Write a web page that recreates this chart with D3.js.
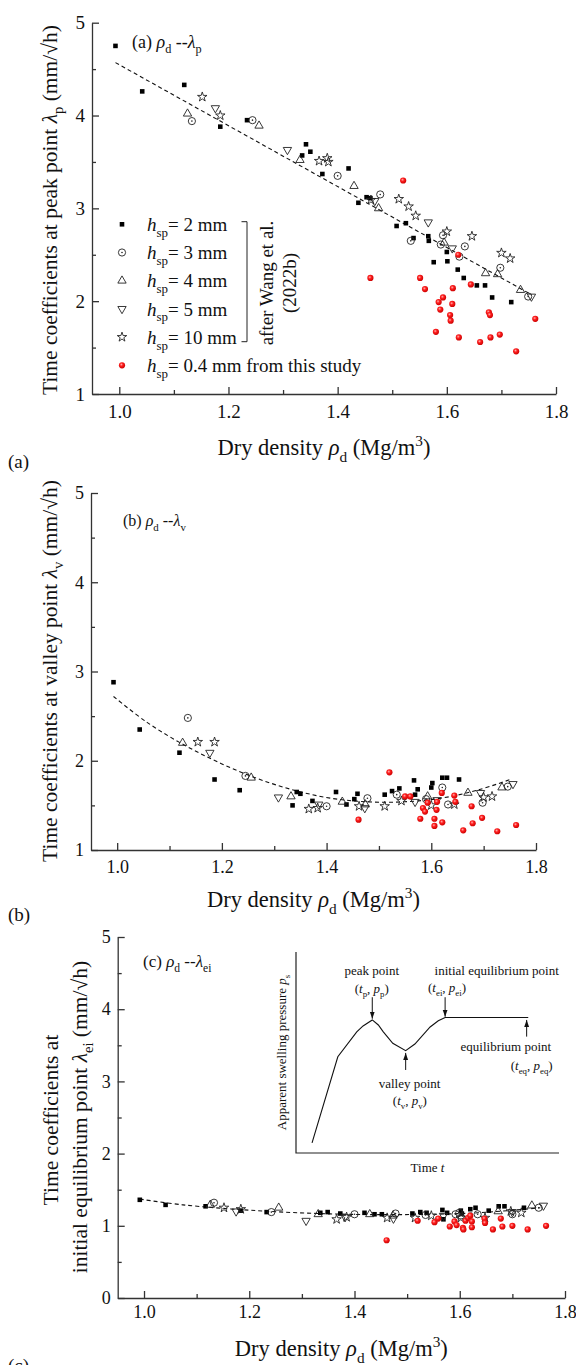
<!DOCTYPE html>
<html>
<head>
<meta charset="utf-8">
<script src="https://cdn.jsdelivr.net/npm/d3@7"></script>
<style>
  body { margin: 0; background: #fff; }
  svg { display: block; font-family: "Liberation Serif", "Times New Roman", serif; }
</style>
</head>
<body>
<svg id="chart" width="576" height="1365"></svg>
<script>
// ---- data: [dry density, time coefficient] ----
const aH2 = [[0.993,4.75],[1.042,4.26],[1.119,4.33],[1.185,3.88],[1.234,3.95],[1.335,3.57],[1.342,3.69],[1.350,3.61],[1.372,3.37],[1.420,3.43],[1.438,3.06],[1.453,3.12],[1.460,3.11],[1.508,2.81],[1.525,2.84],[1.539,2.68],[1.566,2.70],[1.567,2.65],[1.576,2.42],[1.600,2.53],[1.601,2.43],[1.620,2.34],[1.631,2.25],[1.655,2.17],[1.670,2.17],[1.683,2.04],[1.718,1.99]];
const aH3 = [[1.133,3.94],[1.244,3.95],[1.400,3.35],[1.478,3.15],[1.534,2.65],[1.589,2.61],[1.593,2.71],[1.623,2.48],[1.633,2.59],[1.698,2.36],[1.749,2.05]];
const aH4 = [[1.125,4.02],[1.256,3.89],[1.331,3.52],[1.430,3.24],[1.475,3.00],[1.595,2.63],[1.671,2.30],[1.693,2.29],[1.735,2.12]];
const aH5 = [[1.176,4.08],[1.308,3.63],[1.468,3.08],[1.566,2.85],[1.610,2.57],[1.755,2.05]];
const aH10 = [[1.152,4.20],[1.185,4.00],[1.366,3.51],[1.381,3.54],[1.383,3.50],[1.461,3.09],[1.512,3.10],[1.530,3.02],[1.543,2.92],[1.600,2.75],[1.646,2.70],[1.700,2.52],[1.716,2.46]];
const aRed = [[1.520,3.30],[1.460,2.25],[1.551,2.25],[1.560,2.13],[1.585,1.99],[1.593,2.04],[1.588,1.91],[1.610,1.97],[1.606,1.85],[1.607,1.79],[1.611,2.14],[1.580,1.67],[1.621,2.50],[1.622,1.61],[1.644,2.18],[1.661,1.56],[1.677,1.88],[1.679,1.85],[1.680,1.61],[1.697,1.64],[1.727,1.46],[1.762,1.81]];
const aTrend = [[0.993,4.57],[1.755,2.07]];

const bH2 = [[0.993,2.88],[1.043,2.35],[1.119,2.09],[1.186,1.79],[1.234,1.67],[1.335,1.50],[1.343,1.65],[1.350,1.63],[1.373,1.55],[1.418,1.65],[1.438,1.51],[1.453,1.57],[1.459,1.63],[1.511,1.62],[1.525,1.66],[1.539,1.69],[1.567,1.78],[1.569,1.62],[1.574,1.68],[1.600,1.70],[1.602,1.75],[1.621,1.81],[1.630,1.81],[1.653,1.79]];
const bH3 = [[1.135,2.48],[1.245,1.83],[1.400,1.49],[1.478,1.58],[1.534,1.62],[1.590,1.57],[1.621,1.70],[1.632,1.51],[1.698,1.53],[1.746,1.71]];
const bH4 = [[1.125,2.20],[1.256,1.81],[1.332,1.60],[1.430,1.54],[1.474,1.51],[1.593,1.60],[1.670,1.64],[1.735,1.70]];
const bH5 = [[1.177,2.09],[1.308,1.59],[1.385,1.51],[1.473,1.47],[1.569,1.54],[1.611,1.56],[1.694,1.64],[1.756,1.74]];
const bH10 = [[1.154,2.21],[1.186,2.21],[1.366,1.46],[1.383,1.47],[1.462,1.49],[1.511,1.49],[1.543,1.55],[1.600,1.50],[1.644,1.51],[1.700,1.59],[1.716,1.60]];
const bRed = [[1.461,1.34],[1.520,1.87],[1.550,1.60],[1.560,1.60],[1.579,1.35],[1.584,1.47],[1.588,1.43],[1.593,1.53],[1.606,1.35],[1.606,1.27],[1.610,1.45],[1.611,1.54],[1.620,1.64],[1.621,1.31],[1.644,1.61],[1.646,1.54],[1.661,1.22],[1.677,1.49],[1.679,1.30],[1.697,1.36],[1.726,1.21],[1.762,1.28]];
const bTrend = [[0.993,2.72],[1.057,2.43],[1.127,2.18],[1.198,1.97],[1.268,1.80],[1.338,1.67],[1.408,1.58],[1.478,1.54],[1.548,1.54],[1.618,1.58],[1.688,1.67],[1.751,1.79]];

const cH2 = [[0.992,1.36],[1.041,1.29],[1.117,1.27],[1.184,1.21],[1.233,1.19],[1.335,1.18],[1.349,1.19],[1.373,1.17],[1.419,1.18],[1.438,1.16],[1.452,1.16],[1.510,1.17],[1.525,1.19],[1.537,1.18],[1.567,1.22],[1.569,1.09],[1.576,1.18],[1.602,1.21],[1.604,1.17],[1.620,1.23],[1.630,1.25],[1.655,1.21],[1.674,1.27],[1.685,1.27],[1.722,1.25]];
const cH3 = [[1.133,1.32],[1.242,1.19],[1.400,1.16],[1.478,1.17],[1.535,1.15],[1.592,1.16],[1.599,1.18],[1.634,1.16],[1.700,1.16],[1.750,1.25]];
const cH4 = [[1.126,1.29],[1.256,1.25],[1.331,1.16],[1.429,1.16],[1.473,1.14],[1.604,1.13],[1.673,1.20],[1.737,1.28]];
const cH5 = [[1.175,1.20],[1.308,1.07],[1.382,1.12],[1.474,1.10],[1.569,1.14],[1.700,1.19],[1.759,1.28]];
const cH10 = [[1.152,1.25],[1.184,1.23],[1.366,1.09],[1.385,1.12],[1.462,1.11],[1.515,1.11],[1.546,1.14],[1.602,1.11],[1.648,1.11],[1.697,1.20],[1.717,1.18]];
const cRed = [[1.461,0.80],[1.520,1.07],[1.552,1.05],[1.559,1.10],[1.581,0.99],[1.590,1.06],[1.594,1.01],[1.606,0.97],[1.607,0.95],[1.611,1.07],[1.616,1.11],[1.620,1.14],[1.623,1.06],[1.623,0.98],[1.647,1.10],[1.648,1.04],[1.663,0.95],[1.678,1.10],[1.681,0.99],[1.700,1.00],[1.729,0.95],[1.764,1.00]];
const cTrend = [[0.992,1.37],[1.074,1.29],[1.214,1.21],[1.354,1.165],[1.494,1.155],[1.634,1.18],[1.753,1.25]];

const xTicks = [1.0, 1.2, 1.4, 1.6, 1.8];
const xMinor = [1.1, 1.3, 1.5, 1.7];
const legendLabels = ["2 mm", "3 mm", "4 mm", "5 mm", "10 mm", "0.4 mm from this study"];
const seriesTypes = ["square", "dotcircle", "tri", "dtri", "star", "red"];

// schematic inset (arbitrary units 0-100: time, pressure)
const insetCurve = [[6.1,5.0],[15.9,47.9],[23.1,60.3],[25.5,63.2],[29.0,66.2],[31.3,63.7],[33.2,60.3],[36.8,54.6],[41.7,50.9],[45.2,54.2],[51.0,62.7],[54.1,65.8],[56.7,67.4],[88.3,67.4]];
const insetArrows = [[29.0,77.5,66.8],[56.7,77.5,67.8],[87.7,57.9,66.2],[41.7,41.3,49.8]];

const svg = d3.select("#chart");
const FONT = 21.5;   // y-axis titles
const XFONT = 22.5;  // x-axis titles

// rich text with italic / subscript / superscript pieces
function rich(text, parts, size) {
  let shift = 0;
  parts.forEach(p => {
    const s = p.sub ? size * 0.3 : p.sup ? -size * 0.42 : 0;
    const ts = text.append("tspan").text(p.t);
    if (s - shift !== 0) ts.attr("dy", s - shift);
    shift = s;
    if (p.i) ts.attr("font-style", "italic");
    if (p.sub || p.sup) ts.attr("font-size", size * 0.68);
  });
}

const defs = svg.append("defs");
const grad = defs.append("radialGradient").attr("id", "redball")
  .attr("cx", "40%").attr("cy", "38%").attr("r", "62%");
grad.append("stop").attr("offset", "0%").attr("stop-color", "#ffb0b0");
grad.append("stop").attr("offset", "40%").attr("stop-color", "#ff2020");
grad.append("stop").attr("offset", "100%").attr("stop-color", "#cc0000");
defs.append("marker").attr("id", "arrow").attr("viewBox", "0 0 10 10")
  .attr("refX", 10).attr("refY", 5).attr("markerWidth", 7).attr("markerHeight", 7)
  .attr("markerUnits", "userSpaceOnUse").attr("orient", "auto")
  .append("path").attr("d", "M0,1.5L10,5L0,8.5Z").attr("fill", "#111");

function drawMarker(g, type, cx, cy) {
  if (type === "square") {
    g.append("path").attr("d", d3.symbol(d3.symbolSquare, 21)())
      .attr("transform", `translate(${cx},${cy})`).attr("fill", "#000");
  } else if (type === "dotcircle") {
    g.append("circle").attr("cx", cx).attr("cy", cy).attr("r", 3.6)
      .attr("fill", "none").attr("stroke", "#222").attr("stroke-width", 0.9);
    g.append("circle").attr("cx", cx).attr("cy", cy).attr("r", 0.8).attr("fill", "#222");
  } else if (type === "tri" || type === "dtri") {
    g.append("path").attr("d", d3.symbol(d3.symbolTriangle, 30)())
      .attr("transform", `translate(${cx},${cy})` + (type === "dtri" ? " rotate(180)" : ""))
      .attr("fill", "none").attr("stroke", "#222").attr("stroke-width", 0.9);
  } else if (type === "star") {
    g.append("path").attr("d", d3.symbol(d3.symbolStar, 28)())
      .attr("transform", `translate(${cx},${cy})`)
      .attr("fill", "none").attr("stroke", "#222").attr("stroke-width", 0.9);
  } else {
    g.append("circle").attr("cx", cx).attr("cy", cy).attr("r", 3.1)
      .attr("fill", "url(#redball)");
  }
}

function drawPanel(p) {
  const g = svg.append("g");
  const x = d3.scaleLinear().domain([0.95, 1.8]).range(p.xr);
  const y = d3.scaleLinear().domain(p.yd).range(p.yr);
  const yMinor = d3.range(p.yd[0] + 0.5, p.yd[1], 1);

  // keep the serif font of the page on the axes
  const style = a => {
    a.attr("font-family", null);
    a.selectAll("path, line").attr("stroke", "#333").attr("stroke-width", 1.3);
    a.selectAll("text").attr("fill", "#111");
  };
  // x axis, ticks inward
  g.append("g").attr("transform", `translate(0,${p.yr[0]})`)
    .call(d3.axisBottom(x).tickValues(xMinor).tickSize(-4).tickSizeOuter(0).tickFormat(""))
    .call(style).select(".domain").remove();
  g.append("g").attr("transform", `translate(0,${p.yr[0]})`)
    .call(d3.axisBottom(x).tickValues(xTicks).tickSize(-7).tickSizeOuter(0)
      .tickPadding(p.xPad).tickFormat(d3.format(".1f")))
    .call(style).attr("font-size", p.tick);
  // y axis, ticks inward
  g.append("g").attr("transform", `translate(${p.xr[0]},0)`)
    .call(d3.axisLeft(y).tickValues(yMinor).tickSize(-4).tickSizeOuter(0).tickFormat(""))
    .call(style).select(".domain").remove();
  g.append("g").attr("transform", `translate(${p.xr[0]},0)`)
    .call(d3.axisLeft(y).tickValues(d3.range(p.yd[0], p.yd[1] + 1)).tickSize(-7).tickSizeOuter(0)
      .tickPadding(7).tickFormat(d3.format("d")))
    .call(style).attr("font-size", p.tick);

  // fitted trend
  g.append("path").datum(p.trend)
    .attr("d", d3.line().x(d => x(d[0])).y(d => y(d[1])).curve(d3.curveCatmullRom))
    .attr("fill", "none").attr("stroke", "#111").attr("stroke-width", 1.1)
    .attr("stroke-dasharray", "4,3");

  // points
  p.series.forEach((s, i) => {
    const sg = g.append("g");
    s.forEach(d => drawMarker(sg, seriesTypes[i], x(d[0]), y(d[1])));
  });

  // panel title
  const t = g.append("text").attr("x", p.title[0]).attr("y", p.title[1])
    .attr("font-size", p.titleSize).attr("fill", "#111");
  rich(t, [{t: `(${p.id}) `}, {t: "ρ", i: 1}, {t: "d", sub: 1}, {t: " --"}, {t: "λ", i: 1}, {t: p.lam, sub: 1}], p.titleSize);

  // x label
  const xl = g.append("text").attr("x", (p.xr[0] + p.xr[1]) / 2).attr("y", p.xLab)
    .attr("text-anchor", "middle").attr("font-size", XFONT).attr("fill", "#111");
  rich(xl, [{t: "Dry density "}, {t: "ρ", i: 1}, {t: "d", sub: 1}, {t: " (Mg/m"}, {t: "3", sup: 1}, {t: ")"}], XFONT);

  // y label (one or two lines)
  p.yLab.forEach(l => {
    const yl = g.append("text")
      .attr("transform", `translate(${l.x},${l.y}) rotate(-90)`)
      .attr("text-anchor", "middle").attr("font-size", FONT).attr("fill", "#111");
    rich(yl, l.parts, FONT);
  });

  // sub-figure letter
  g.append("text").attr("x", 8).attr("y", p.letter).attr("font-size", 19).attr("fill", "#111")
    .text(`(${p.id})`);
  return {x, y, g};
}

const lamParts = (pre, sub) => [{t: pre}, {t: "λ", i: 1}, {t: sub, sub: 1}, {t: " (mm/√h)"}];

drawPanel({
  id: "a", lam: "p", xr: [92, 556], yr: [394, 22.7], yd: [1, 5], tick: 19, xPad: 11,
  trend: aTrend, series: [aH2, aH3, aH4, aH5, aH10, aRed],
  title: [132, 48], titleSize: 18, xLab: 455, letter: 468,
  yLab: [{x: 57, y: 210, parts: lamParts("Time coefficients at peak point ", "p")}]
});
drawPanel({
  id: "b", lam: "v", xr: [91, 536], yr: [850, 493], yd: [1, 5], tick: 18, xPad: 10,
  trend: bTrend, series: [bH2, bH3, bH4, bH5, bH10, bRed],
  title: [123, 526], titleSize: 16, xLab: 907, letter: 921,
  yLab: [{x: 57, y: 671, parts: lamParts("Time coefficients at valley point ", "v")}]
});
drawPanel({
  id: "c", lam: "ei", xr: [117.7, 565], yr: [1298, 937], yd: [0, 5], tick: 18, xPad: 7,
  trend: cTrend, series: [cH2, cH3, cH4, cH5, cH10, cRed],
  title: [143, 967], titleSize: 17, xLab: 1356, letter: 1372,
  yLab: [{x: 58, y: 1120, parts: [{t: "Time coefficients at"}]},
         {x: 87, y: 1117, parts: lamParts("initial equilibrium point ", "ei")}]
});

// ---- legend in panel (a) ----
const lg = svg.append("g");
legendLabels.forEach((lab, i) => {
  const cy = 224.3 + i * 28.2;
  drawMarker(lg, seriesTypes[i], 122, cy);
  const t = lg.append("text").attr("x", 147).attr("y", cy + 6.7).attr("font-size", 19).attr("fill", "#111");
  rich(t, [{t: "h", i: 1}, {t: "sp", sub: 1}, {t: "= " + lab}], 19);
});
lg.append("path").attr("d", "M241.5,221.7H247V341.7H241.5")
  .attr("fill", "none").attr("stroke", "#222").attr("stroke-width", 1);
[["after Wang et al.", 266], ["(2022b)", 289]].forEach(([s, xx]) => {
  lg.append("text").attr("transform", `translate(${xx},283) rotate(-90)`)
    .attr("text-anchor", "middle").attr("dy", "0.35em").attr("font-size", 19).attr("fill", "#111").text(s);
});

// ---- schematic inset in panel (c) ----
const ix = d3.scaleLinear().domain([0, 100]).range([296, 559]);
const iy = d3.scaleLinear().domain([0, 100]).range([1153, 952]);
const ig = svg.append("g");
const iline = d3.line().x(d => ix(d[0])).y(d => iy(d[1]));
ig.append("path").datum([[0, 100], [0, 0], [100, 0]]).attr("d", iline)
  .attr("fill", "none").attr("stroke", "#222").attr("stroke-width", 1.2);
ig.append("path").datum(insetCurve).attr("d", iline)
  .attr("fill", "none").attr("stroke", "#111").attr("stroke-width", 1.1);
insetArrows.forEach(([t, from, to]) => {
  ig.append("line").attr("x1", ix(t)).attr("x2", ix(t)).attr("y1", iy(from)).attr("y2", iy(to))
    .attr("stroke", "#111").attr("stroke-width", 1).attr("marker-end", "url(#arrow)");
});
const insetText = [
  {t: 28.8, p: 88.6, a: "middle", parts: [{t: "peak point"}]},
  {t: 28.8, p: 79.8, a: "middle", parts: [{t: "("}, {t: "t", i: 1}, {t: "p", sub: 1}, {t: ", "}, {t: "p", i: 1}, {t: "p", sub: 1}, {t: ")"}]},
  {t: 76.3, p: 88.6, a: "middle", parts: [{t: "initial equilibrium point"}]},
  {t: 50.2, p: 80.0, a: "start", parts: [{t: "("}, {t: "t", i: 1}, {t: "ei", sub: 1}, {t: ", "}, {t: "p", i: 1}, {t: "ei", sub: 1}, {t: ")"}]},
  {t: 79.8, p: 50.9, a: "middle", parts: [{t: "equilibrium point"}]},
  {t: 97.6, p: 41.3, a: "end", parts: [{t: "("}, {t: "t", i: 1}, {t: "eq", sub: 1}, {t: ", "}, {t: "p", i: 1}, {t: "eq", sub: 1}, {t: ")"}]},
  {t: 43.2, p: 32.3, a: "middle", parts: [{t: "valley point"}]},
  {t: 43.3, p: 23.9, a: "middle", parts: [{t: "("}, {t: "t", i: 1}, {t: "v", sub: 1}, {t: ", "}, {t: "p", i: 1}, {t: "v", sub: 1}, {t: ")"}]}
];
insetText.forEach(d => {
  const t = ig.append("text").attr("x", ix(d.t)).attr("y", iy(d.p))
    .attr("text-anchor", d.a).attr("font-size", 13).attr("fill", "#111");
  rich(t, d.parts, 13);
});
const it = ig.append("text").attr("x", ix(50)).attr("y", 1172).attr("text-anchor", "middle")
  .attr("font-size", 13).attr("fill", "#111");
rich(it, [{t: "Time "}, {t: "t", i: 1}], 13);
const ip = ig.append("text").attr("transform", `translate(286,${iy(50)}) rotate(-90)`)
  .attr("text-anchor", "middle").attr("font-size", 13).attr("fill", "#111");
rich(ip, [{t: "Apparent swelling pressure "}, {t: "p", i: 1}, {t: "s", sub: 1}], 13);
</script>
</body>
</html>
